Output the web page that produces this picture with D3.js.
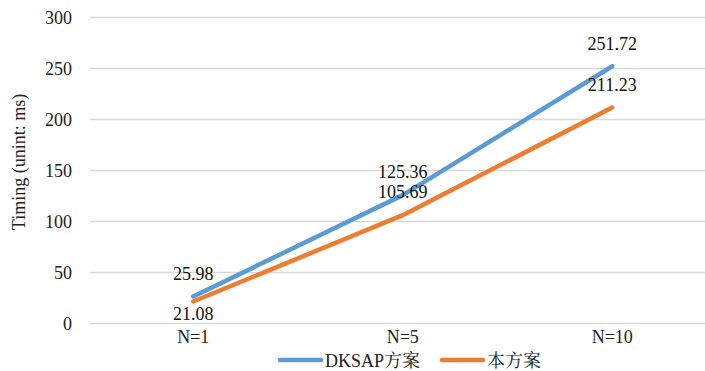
<!DOCTYPE html>
<html><head><meta charset="utf-8">
<script src="https://cdn.jsdelivr.net/npm/d3@7"></script>
<style>
body{margin:0;background:#fff}svg{display:block}
svg text{font-family:"Liberation Serif","Times New Roman","Noto Serif CJK SC","Noto Sans CJK SC",serif !important;font-size:18px !important;}
</style>
</head><body>
<svg id="c" width="705" height="371"></svg>
<script>
const categories = ["N=1", "N=5", "N=10"];
const seriesNames = ["DKSAP方案", "本方案"];
const dksapValues = [25.98, 125.36, 251.72];
const oursValues = [21.08, 105.69, 211.23];
const labelText = [["25.98", "125.36", "251.72"], ["21.08", "105.69", "211.23"]];
const labelPos = [["above", "above", "above"], ["below", "above", "above"]];
const yTicks = [0, 50, 100, 150, 200, 250, 300];
const colors = ["#5B9BD5", "#ED7D31"];

const svg = d3.select("#c");
const x = d3.scaleBand().domain(categories).range([88.5, 717]);
const y = d3.scaleLinear().domain([0, 300]).range([323, 17]);

// gridlines
svg.append("g").selectAll("line").data(yTicks).join("line")
  .attr("x1", 90).attr("x2", 705)
  .attr("y1", d => Math.round(y(d)) + 0.5).attr("y2", d => Math.round(y(d)) + 0.5)
  .attr("stroke", "#d9d9d9").attr("stroke-width", 1.3);

// y axis labels
const yAxis = d3.axisLeft(y).tickValues(yTicks).tickSize(0).tickPadding(0);
const gy = svg.append("g").attr("transform", "translate(72,0)").call(yAxis);
gy.select(".domain").remove();
gy.selectAll("text").attr("fill", "#222").attr("dy", "0.34em");

// x axis labels
const xAxis = d3.axisBottom(x).tickSize(0).tickPadding(0);
const gx = svg.append("g").attr("transform", "translate(0,329)").call(xAxis);
gx.select(".domain").remove();
gx.selectAll("text").attr("fill", "#222").attr("dy", "0.75em");

// y title
svg.append("text").attr("transform", "translate(25,162) rotate(-90)")
  .attr("text-anchor", "middle").attr("fill", "#222")
  .text("Timing (unint: ms)");

const series = [dksapValues, oursValues];
const line = d3.line().x((d, i) => x(categories[i]) + x.bandwidth() / 2).y(d => y(d));
series.forEach((vals, s) => {
  svg.append("path").datum(vals).attr("d", line).attr("fill", "none")
    .attr("stroke", colors[s]).attr("stroke-width", 4.5).attr("stroke-linecap", "round").attr("stroke-linejoin", "round");
});
series.forEach((vals, s) => {
  svg.append("g").selectAll("text").data(vals).join("text")
    .attr("x", (d, i) => x(categories[i]) + x.bandwidth() / 2)
    .attr("y", (d, i) => y(d) + (labelPos[s][i] === "above" ? -23 : 12))
    .attr("dy", "0.35em").attr("text-anchor", "middle")
    .attr("fill", "#111")
    .text((d, i) => labelText[s][i]);
});

// legend
const legendX = [280, 442];
const lg = svg.append("g");
seriesNames.forEach((name, s) => {
  lg.append("line").attr("x1", legendX[s]).attr("x2", legendX[s] + 41)
    .attr("y1", 360).attr("y2", 360).attr("stroke", colors[s]).attr("stroke-width", 4.5).attr("stroke-linecap", "round");
  lg.append("text").attr("x", legendX[s] + 45).attr("y", 361).attr("dy", "0.35em")
    .attr("fill", "#222").text(name);
});
</script>
</body></html>
